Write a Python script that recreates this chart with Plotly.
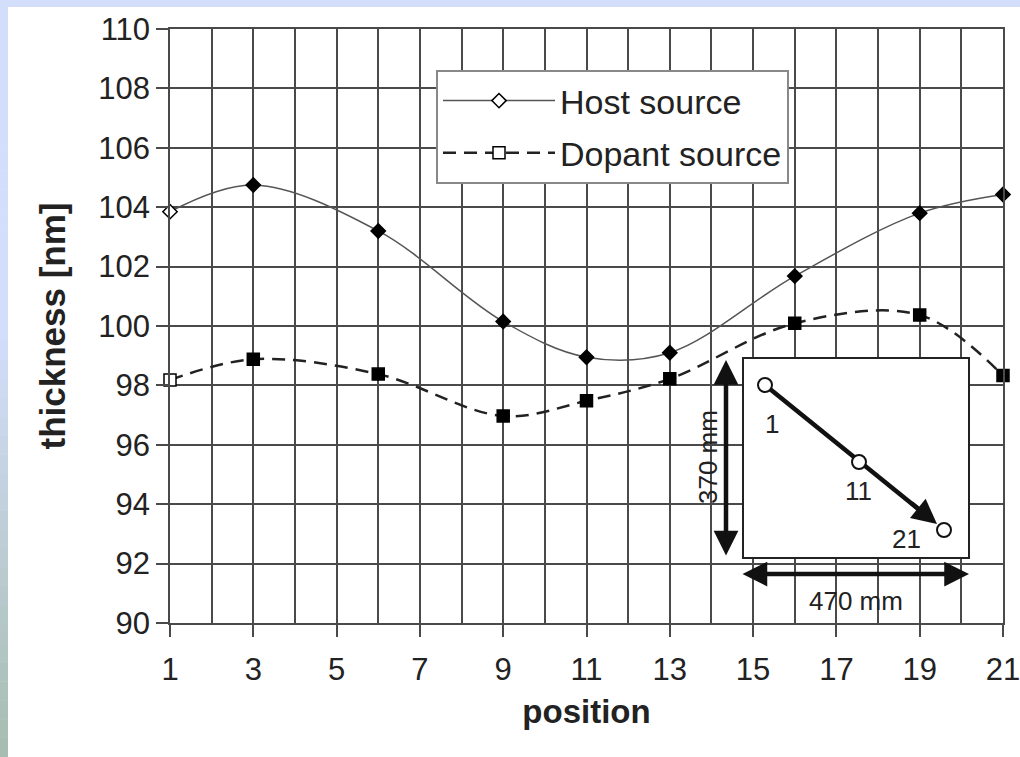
import plotly.graph_objects as go

# ---- data ----
positions = [1, 3, 6, 9, 11, 13, 16, 19, 21]
host_source = [103.85, 104.75, 103.2, 100.15, 98.95, 99.1, 101.68, 103.8, 104.43]
dopant_source = [98.18, 98.88, 98.38, 96.97, 97.48, 98.22, 100.09, 100.37, 98.33]
x_ticks = [1, 3, 5, 7, 9, 11, 13, 15, 17, 19, 21]
y_ticks = [90, 92, 94, 96, 98, 100, 102, 104, 106, 108, 110]

W, H = 1020, 757
L, R, T, B = 170, 1003, 29, 623  # plot area in pixels


def px(xp):
    return (xp - L) / (R - L)


def py(yp):
    return (B - yp) / (B - T)


fig = go.Figure()

fill_h = ["white"] + ["black"] * (len(positions) - 1)
fig.add_trace(go.Scatter(
    x=positions, y=host_source, name="Host source", legendgroup="host",
    mode="lines+markers", cliponaxis=False,
    line=dict(color="#555555", width=1.5, shape="spline", smoothing=1.0),
    marker=dict(symbol="diamond", size=11, color=fill_h,
                line=dict(color="black", width=1.5)),
))
fill_d = ["white"] + ["black"] * (len(positions) - 1)
fig.add_trace(go.Scatter(
    x=positions, y=dopant_source, name="Dopant source", legendgroup="dopant",
    mode="lines+markers", cliponaxis=False,
    line=dict(color="#222222", width=2.5, dash="13px,8px", shape="spline", smoothing=1.0),
    marker=dict(symbol="square", size=12, color=fill_d,
                line=dict(color="black", width=1.5)),
))

grid_col = "#4a4a4a"
fig.update_xaxes(
    range=[1, 21], tickvals=x_ticks, ticktext=[str(v) for v in x_ticks],
    ticks="outside", ticklen=12, tickwidth=1.5, tickcolor=grid_col,
    ticklabelstandoff=6, ticklabeloverflow="allow",
    showgrid=True, gridcolor=grid_col, gridwidth=1.5,
    minor=dict(dtick=1, tick0=0, showgrid=True, gridcolor=grid_col, gridwidth=1.5, ticks=""),
    showline=True, linecolor=grid_col, linewidth=1.5, mirror=True,
    zeroline=False,
    tickfont=dict(family="Liberation Sans, Arial", size=31, color="#222222"),
    title=dict(text="<b>position</b>", standoff=14,
               font=dict(family="Liberation Sans, Arial", size=33, color="#222222")),
)
fig.update_yaxes(
    range=[90, 110], tickvals=y_ticks, ticktext=[str(v) for v in y_ticks],
    ticks="outside", ticklen=12, tickwidth=1.5, tickcolor=grid_col,
    showgrid=True, gridcolor=grid_col, gridwidth=1.5,
    showline=True, linecolor=grid_col, linewidth=1.5, mirror=True,
    zeroline=False,
    tickfont=dict(family="Liberation Sans, Arial", size=31, color="#222222"),
    title=dict(text="<b>thickness [nm]</b>", standoff=22,
               font=dict(family="Liberation Sans, Arial", size=35, color="#222222")),
)

shapes = []
# slide-like background strips (top and left)
shapes.append(dict(type="rect", xref="paper", yref="paper",
                   x0=px(0), x1=px(W), y0=py(7), y1=py(0),
                   fillcolor="#d3defa", line=dict(width=0), layer="below"))
c0 = (0xd3, 0xde, 0xfa)
c1 = (0xa6, 0xbc, 0xae)
nb = 40
for i in range(nb):
    y0p = i * H / nb
    y1p = (i + 1) * H / nb
    t = max(0.0, (y0p - 330) / (H - 330))
    col = tuple(int(c0[k] + (c1[k] - c0[k]) * t) for k in range(3))
    shapes.append(dict(type="rect", xref="paper", yref="paper",
                       x0=px(0), x1=px(8), y0=py(y1p + 0.5), y1=py(y0p),
                       fillcolor="rgb(%d,%d,%d)" % col, line=dict(width=0), layer="below"))

# inset box
shapes.append(dict(type="rect", xref="paper", yref="paper",
                   x0=px(743), x1=px(969), y0=py(558), y1=py(358),
                   fillcolor="white", line=dict(color="#222222", width=2), layer="above"))
# thick path line 1 -> 21
shapes.append(dict(type="line", xref="paper", yref="paper",
                   x0=px(765), y0=py(385), x1=px(922), y1=py(512),
                   line=dict(color="#111111", width=4.5), layer="above"))
# circles
for (cx, cy) in [(765, 385), (859, 462), (944, 530)]:
    shapes.append(dict(type="circle", xref="paper", yref="paper",
                       x0=px(cx - 7), x1=px(cx + 7), y0=py(cy + 7), y1=py(cy - 7),
                       fillcolor="white", line=dict(color="#111111", width=2), layer="above"))

annotations = []


def arrow(hx, hy, tx, ty, both=False):
    d = dict(xref="paper", yref="paper", x=px(hx), y=py(hy),
             ax=tx - hx, ay=ty - hy, axref="pixel", ayref="pixel",
             showarrow=True, arrowhead=2, arrowsize=1.1, arrowwidth=4.5,
             arrowcolor="#111111", text="", standoff=0)
    if both:
        d.update(arrowside="end+start", startarrowhead=2, startarrowsize=1.1, startstandoff=0)
    return d


annotations.append(arrow(937, 524, 910, 502))
annotations.append(arrow(726, 360, 726, 557, both=True))
annotations.append(arrow(969, 574, 741, 574, both=True))

txt_font = dict(family="Liberation Sans, Arial", size=26, color="#222222")
for (tx, ty, s) in [(772, 424, "1"), (858, 491, "11"), (906, 539, "21"), (856, 601, "470 mm")]:
    annotations.append(dict(xref="paper", yref="paper", x=px(tx), y=py(ty), text=s,
                            showarrow=False, font=txt_font, xanchor="center", yanchor="middle"))
annotations.append(dict(xref="paper", yref="paper", x=px(708), y=py(457), text="370 mm",
                        showarrow=False, font=txt_font, textangle=-90,
                        xanchor="center", yanchor="middle"))

fig.update_layout(
    width=W, height=H,
    margin=dict(l=L, r=W - R, t=T, b=H - B, autoexpand=False),
    paper_bgcolor="white", plot_bgcolor="white",
    shapes=shapes, annotations=annotations,
    legend=dict(x=px(436), y=py(70), xanchor="left", yanchor="top",
                bgcolor="white", bordercolor="#888888", borderwidth=2,
                font=dict(family="Liberation Sans, Arial", size=34, color="#222222"),
                itemwidth=112, entrywidth=400, tracegroupgap=5),
    showlegend=True,
)

fig.write_html(
    "out.html",
    config={"displayModeBar": False},
    post_script="document.body.style.margin='0';document.body.style.overflow='hidden';",
)
